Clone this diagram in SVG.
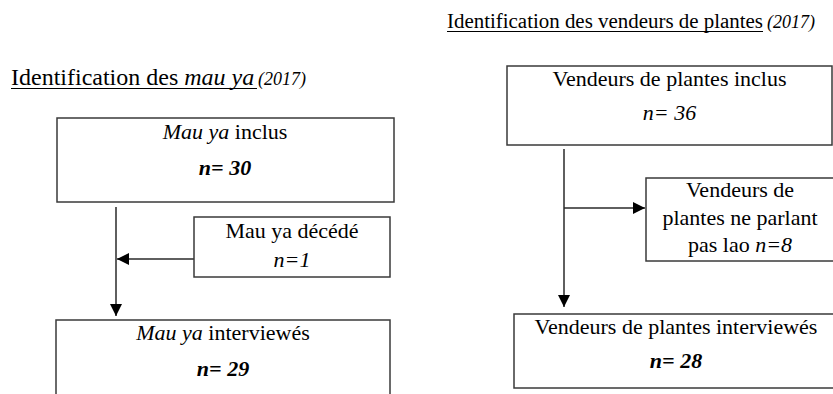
<svg xmlns="http://www.w3.org/2000/svg" width="833" height="394" viewBox="0 0 833 394">
  <style>
    text { font-family: 'Liberation Serif', 'DejaVu Serif', serif; fill: #000; font-size: 22px; }
    .title { font-size: 24px; }
    .yr { font-style: italic; font-size: 18px; }
    .it { font-style: italic; }
    .bi { font-style: italic; font-weight: bold; }
    .box { fill: #fff; stroke: #3a3a3a; stroke-width: 1.5; }
    .conn { fill: none; stroke: #2a2a2a; stroke-width: 1.5; }
    .ul { stroke: #000; stroke-width: 1.2; }
  </style>
  <defs>
    <marker id="arrow" viewBox="0 0 12 12" refX="12" refY="6" markerWidth="12" markerHeight="12" markerUnits="userSpaceOnUse" orient="auto">
      <path d="M0,0 L12,6 L0,12 z" fill="#000"/>
    </marker>
  </defs>
  <rect width="833" height="394" fill="#fff"/>

  <g id="title-left">
    <text class="title" x="11" y="85">Identification des <tspan class="it">mau ya </tspan><tspan class="yr" x="258">(2017)</tspan></text>
    <line class="ul" x1="11" y1="88.5" x2="257" y2="88.5"/>
  </g>
  <g id="title-right">
    <text x="447" y="28" textLength="316" lengthAdjust="spacingAndGlyphs" style="font-size:20px">Identification des vendeurs de plantes</text>
    <text class="yr" x="767" y="28">(2017)</text>
    <line class="ul" x1="447" y1="31.5" x2="763" y2="31.5"/>
  </g>

  <g id="connectors">
    <line class="conn" x1="116" y1="207" x2="116" y2="316" marker-end="url(#arrow)"/>
    <line class="conn" x1="194" y1="259" x2="117" y2="259" marker-end="url(#arrow)"/>
    <line class="conn" x1="564" y1="149" x2="564" y2="307" marker-end="url(#arrow)"/>
    <line class="conn" x1="564" y1="208" x2="645" y2="208" marker-end="url(#arrow)"/>
  </g>

  <g id="mau-ya-inclus">
    <rect class="box" x="57" y="118" width="337" height="84"/>
    <text x="225" y="139" text-anchor="middle"><tspan class="it">Mau ya</tspan> inclus</text>
    <text class="bi" x="225" y="175" text-anchor="middle">n= 30</text>
  </g>
  <g id="mau-ya-decede">
    <rect class="box" x="194" y="217" width="196" height="60"/>
    <text x="292" y="238" text-anchor="middle">Mau ya décédé</text>
    <text class="it" x="292" y="267" text-anchor="middle">n=1</text>
  </g>
  <g id="mau-ya-interviewes">
    <rect class="box" x="56" y="320" width="334" height="90"/>
    <text x="223" y="340" text-anchor="middle"><tspan class="it">Mau ya</tspan> interviewés</text>
    <text class="bi" x="223" y="376" text-anchor="middle">n= 29</text>
  </g>

  <g id="vendeurs-inclus">
    <rect class="box" x="507" y="66" width="325" height="79"/>
    <text x="669.5" y="86" text-anchor="middle">Vendeurs de plantes inclus</text>
    <text class="it" x="669.5" y="120" text-anchor="middle">n= 36</text>
  </g>
  <g id="vendeurs-non-lao">
    <rect class="box" x="646" y="178" width="200" height="83"/>
    <text x="740" y="197" text-anchor="middle">Vendeurs de</text>
    <text x="740" y="225" text-anchor="middle">plantes ne parlant</text>
    <text x="740" y="252" text-anchor="middle">pas lao <tspan class="it">n=8</tspan></text>
  </g>
  <g id="vendeurs-interviewes">
    <rect class="box" x="514" y="314" width="332" height="74"/>
    <text x="676" y="334" text-anchor="middle">Vendeurs de plantes interviewés</text>
    <text class="bi" x="676" y="368" text-anchor="middle">n= 28</text>
  </g>
</svg>
